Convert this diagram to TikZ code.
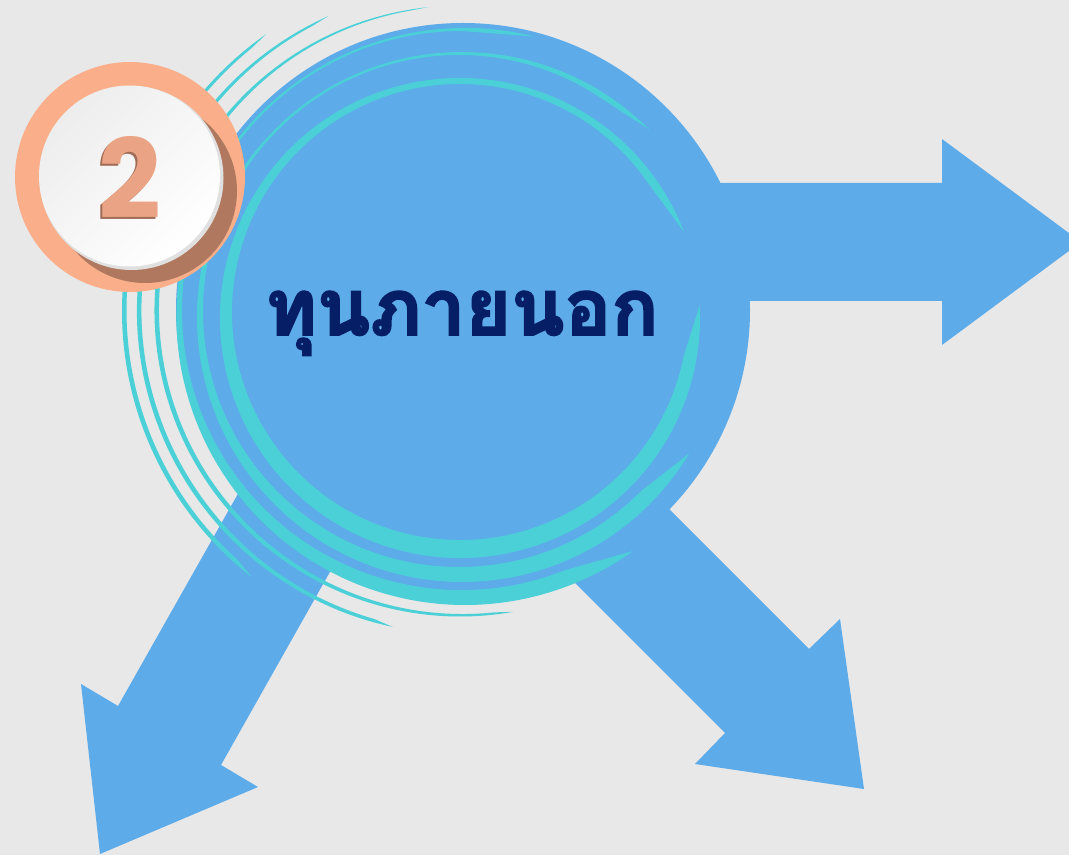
\documentclass[tikz,border=0pt]{standalone}
\usepackage{fontspec}
\newfontfamily\thaifont[Script=Thai, BoldFeatures={FakeBold=2.5}]{Loma}
\newfontfamily\numfont{Poppins}
\usetikzlibrary{calc}
\definecolor{bgGray}{RGB}{232,232,232}
\definecolor{hubBlue}{RGB}{93,171,233}
\definecolor{ringCyan}{RGB}{75,208,215}
\definecolor{titleNavy}{RGB}{6,30,102}
\definecolor{badgeOrange}{RGB}{250,175,138}
\definecolor{badgeShadow}{RGB}{176,121,95}
\definecolor{rimGray}{RGB}{224,224,224}
\definecolor{digitSalmon}{RGB}{234,163,132}
\definecolor{digitShadow}{RGB}{160,108,86}
% band between an inner and an outer circle, pointed at both ends:
% {cx}{cy}{r} inner, {cx}{cy}{r} outer, {from}{to}{taper}
\newcommand{\ringband}[9]{%
  \fill[band] ($(#4,#5)+(#7:#6)$) arc[start angle=#7, end angle=#8, radius=#6]
    -- ($(#1,#2)+(#8-#9:#3)$) arc[start angle=#8-#9, end angle=#7+#9, radius=#3] -- cycle;}

\begin{document}
\begin{tikzpicture}[x=1pt, y=1pt,
        every node/.append style={inner sep=0pt},
        blockarrow/.style={fill=hubBlue},
        band/.style={fill=ringCyan}
      ]
        \clip (0,0) rectangle (1069,855);
        \fill[bgGray] (0,0) rectangle (1069,855);
        % Three block arrows out of the hub
        \fill[blockarrow] (463,672) -- (942,672) -- (942,716) -- (1081,613)
          -- (942,510) -- (942,554) -- (463,554) -- cycle;
        \fill[blockarrow] (540,475) -- (809,206) -- (840,236) -- (864,66)
          -- (695,91) -- (725,122) -- (460,387) -- cycle;
        \fill[blockarrow] (291,455) -- (118,149) -- (81,171) -- (100,1)
          -- (258,68) -- (221,90) -- (427,455) -- cycle;
        % Hub circle
        \node[circle, fill=hubBlue, minimum size=574pt] (hub) at (463,545) {};
        % Cyan rings
        \ringband{460}{543}{228}{460}{537}{240}{21}{363}{14}
        \ringband{459}{544}{256}{462}{538}{265}{45}{329}{14}
        \ringband{461.5}{544.5}{279.5}{465}{538.5}{288.5}{76}{305.6}{14}
        \ringband{463}{545}{304}{460}{544}{305.5}{96}{280}{4}
        \ringband{463}{545}{321.5}{460}{544}{323}{114}{258}{4}
        \ringband{463}{545}{336.5}{460}{544}{338}{125}{232}{4}
        % Title
        \node[anchor=base, text=titleNavy, font=\thaifont\bfseries\fontsize{78}{90}\selectfont]
          (title) at (462,520) {ทุนภายนอก};
        % Number badge
        \node[circle, fill=badgeOrange, minimum size=230pt] (badge) at (130,678) {};
        \node[circle, fill=badgeShadow, minimum size=184pt] (badgeshade) at (145,664) {};
        \node[circle, fill=rimGray, minimum size=184pt] (badgerim) at (131.5,677) {};
        \node[circle, minimum size=181pt, shading=axis, top color=black!7,
              bottom color=white, shading angle=45] (badgeface) at (129.5,679) {};
        \node[text=digitShadow, font=\numfont\bfseries\fontsize{110}{120}\selectfont]
          (numshade) at (127.5,676) {2};
        \node[text=digitSalmon, font=\numfont\bfseries\fontsize{110}{120}\selectfont]
          (num) at (130,678) {2};
      \end{tikzpicture}
\end{document}
